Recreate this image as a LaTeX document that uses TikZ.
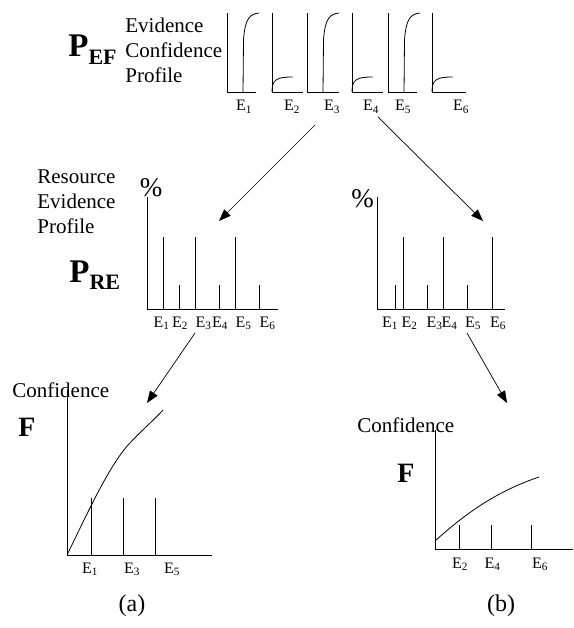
\documentclass[tikz,border=0pt]{standalone}
\usepackage{fontspec}
\setmainfont{Liberation Serif}
\usetikzlibrary{arrows.meta}

\begin{document}
\begin{tikzpicture}[x=1pt,y=-1pt,line width=0.8pt,
  elabel/.style={anchor=base,inner sep=0pt,font=\fontsize{16}{16}\selectfont},
  txt/.style={anchor=north west,inner sep=0pt,align=left,font=\fontsize{21}{25}\selectfont},
  arrow/.style={line width=0.7pt,-{Triangle[length=12pt,width=9pt]}}]
  \useasboundingbox (0,0) rectangle (573,628);
  % evidence confidence profiles
  \node[anchor=base west,inner sep=0pt] (pef) at (68,57) {\fontsize{33}{33}\selectfont\textbf{P}\raisebox{-8pt}{\fontsize{22}{22}\selectfont\textbf{EF}}};
  \node[txt] (ecp) at (125,18) {Evidence\\Confidence\\Profile};
  \foreach \x/\w in {227/29,307/32,388/29}{
    \draw (\x,13) -- (\x,92) -- (\x+\w,92);
    \draw (\x+16,92) -- (\x+16.5,40) .. controls (\x+18,18) and (\x+23,14) .. (\x+32,13);
  }
  \foreach \x/\w in {272/31,352/31,432/34}{
    \draw (\x,13) -- (\x,92) -- (\x+\w,92);
    \draw (\x,92) .. controls (\x,80) and (\x+4,77) .. (\x+20.5,77);
  }
  \node[elabel] (ef1) at (244,111) {E\textsubscript{1}};
  \node[elabel] (ef2) at (292,111) {E\textsubscript{2}};
  \node[elabel] (ef3) at (332,111) {E\textsubscript{3}};
  \node[elabel] (ef4) at (371,111) {E\textsubscript{4}};
  \node[elabel] (ef5) at (403,111) {E\textsubscript{5}};
  \node[elabel] (ef6) at (461,111) {E\textsubscript{6}};
  % resource evidence profiles
  \node[txt] (rep) at (37,169) {Resource\\Evidence\\Profile};
  \node[anchor=base west,inner sep=0pt] (pre) at (69,282) {\fontsize{33}{33}\selectfont\textbf{P}\raisebox{-7pt}{\fontsize{22}{22}\selectfont\textbf{RE}}};
  \node[inner sep=0pt,font=\fontsize{27}{27}\selectfont] (pct-a) at (151,188) {\%};
  \draw (147,197) -- (147,309) -- (278,309);
  \foreach \x/\h in {163/237,179/285,195/237,219/285,235/237,259/285}
    \draw (\x,309) -- (\x,\h);
  \node[elabel] (ra1) at (161.5,327) {E\textsubscript{1}};
  \node[elabel] (ra2) at (180,327) {E\textsubscript{2}};
  \node[elabel] (ra3) at (203.5,327) {E\textsubscript{3}};
  \node[elabel] (ra4) at (220,327) {E\textsubscript{4}};
  \node[elabel] (ra5) at (243.5,327) {E\textsubscript{5}};
  \node[elabel] (ra6) at (267.5,327) {E\textsubscript{6}};
  \node[inner sep=0pt,font=\fontsize{27}{27}\selectfont] (pct-b) at (362.5,199) {\%};
  \draw (377,197) -- (377,309) -- (505,309);
  \foreach \x/\h in {395/285,403/237,427/285,443/237,467/285,492/237}
    \draw (\x,309) -- (\x,\h);
  \node[elabel] (rb1) at (390,327) {E\textsubscript{1}};
  \node[elabel] (rb2) at (409.5,327) {E\textsubscript{2}};
  \node[elabel] (rb3) at (434.5,327) {E\textsubscript{3}};
  \node[elabel] (rb4) at (449.5,327) {E\textsubscript{4}};
  \node[elabel] (rb5) at (473,327) {E\textsubscript{5}};
  \node[elabel] (rb6) at (498,327) {E\textsubscript{6}};
  % confidence functions
  \node[txt,anchor=base west] (conf-a) at (12,397) {Confidence};
  \node[anchor=base west,inner sep=0pt,font=\fontsize{28}{28}\selectfont\bfseries] (f-a) at (18,436) {F};
  \draw (67,390) -- (67,555) -- (212,555);
  \foreach \x in {91,123,155}
    \draw (\x,555) -- (\x,498);
  \draw (67,555) .. controls (88,512) and (108,468) .. (128,445) .. controls (143,429) and (155,419) .. (163,410);
  \node[elabel] (fa1) at (90,573) {E\textsubscript{1}};
  \node[elabel] (fa3) at (132,573) {E\textsubscript{3}};
  \node[elabel] (fa5) at (172,573) {E\textsubscript{5}};
  \node[font=\fontsize{24}{24}\selectfont] (cap-a) at (132,606) {(a)};
  \node[txt,anchor=base west] (conf-b) at (357,432) {Confidence};
  \node[anchor=base west,inner sep=0pt,font=\fontsize{28}{28}\selectfont\bfseries] (f-b) at (397,482) {F};
  \draw (435,430) -- (435,549) -- (573,549);
  \foreach \x in {459,491,531}
    \draw (\x,549) -- (\x,525);
  \draw (435,541) .. controls (465,514) and (495,492) .. (539,477);
  \node[elabel] (fb2) at (460,568) {E\textsubscript{2}};
  \node[elabel] (fb4) at (492.5,568) {E\textsubscript{4}};
  \node[elabel] (fb6) at (540,568) {E\textsubscript{6}};
  \node[font=\fontsize{24}{24}\selectfont] (cap-b) at (501,606) {(b)};
  % arrows
  \coordinate (ef-out-a) at (315,125);
  \coordinate (re-in-a) at (219,221);
  \coordinate (ef-out-b) at (378,117);
  \coordinate (re-in-b) at (483,221);
  \coordinate (re-out-a) at (195,333);
  \coordinate (f-in-a) at (147,403);
  \coordinate (re-out-b) at (467,333);
  \coordinate (f-in-b) at (507,403);
  \draw[arrow] (ef-out-a) -- (re-in-a);
  \draw[arrow] (ef-out-b) -- (re-in-b);
  \draw[arrow] (re-out-a) -- (f-in-a);
  \draw[arrow] (re-out-b) -- (f-in-b);
\end{tikzpicture}
\end{document}
